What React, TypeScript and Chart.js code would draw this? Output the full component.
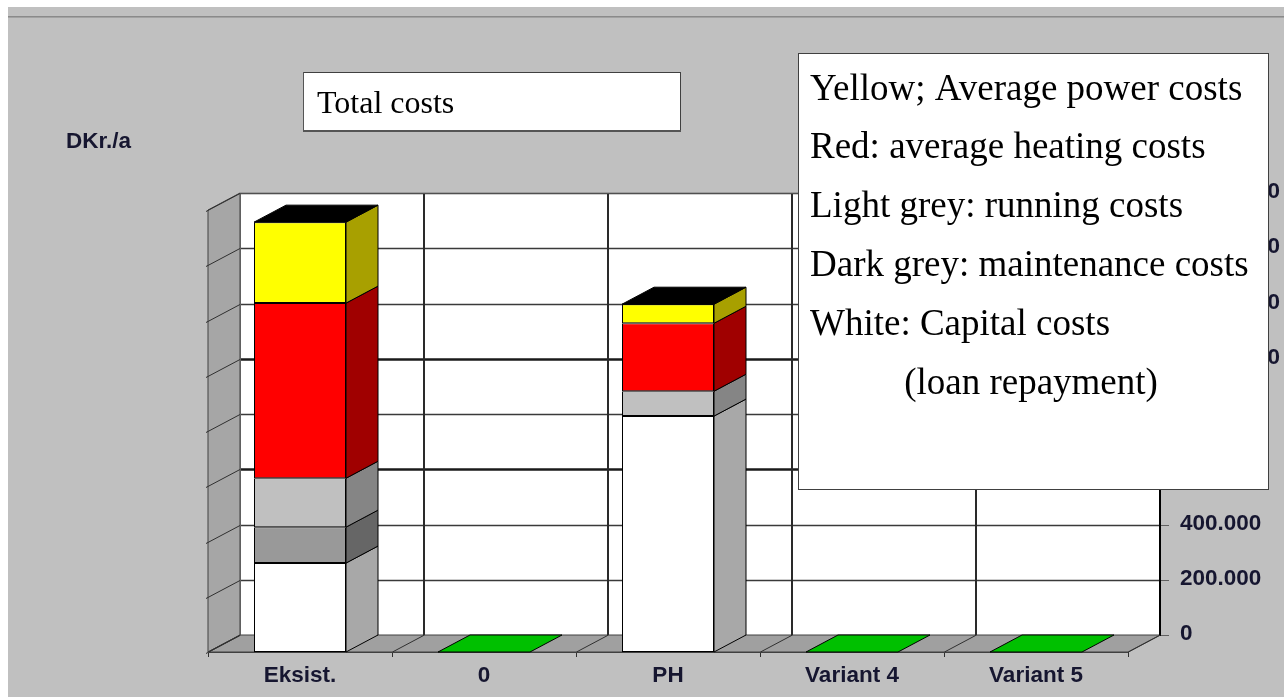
import React, { useEffect, useRef } from 'react';
import { Chart, registerables } from 'chart.js';

Chart.register(...registerables);

// ---------- data ----------
const categories = ['Eksist.', '0', 'PH', 'Variant 4', 'Variant 5'];
const capitalCosts = [322000, 0, 854000, 0, 0];
const maintenanceCosts = [130000, 0, 0, 0, 0];
const runningCosts = [177000, 0, 90000, 0, 0];
const heatingCosts = [634000, 0, 246000, 0, 0];
const powerCosts = [293000, 0, 69000, 0, 0];
const yMin = 0;
const yMax = 1600000;
const yStep = 200000;
const unitLabel = 'DKr./a';
const titleText = 'Total costs';
const legendLines = [
  'Yellow; Average power costs',
  'Red: average heating costs',
  'Light grey: running costs',
  'Dark grey: maintenance costs',
  'White: Capital costs',
];
const legendLastLine = '(loan repayment)';

// ---------- styles ----------
const DX = 32;
const DY = -17;
const SANS = '"Liberation Sans", Arial, sans-serif';
const SERIF = '"Liberation Serif", "Times New Roman", serif';
const LABEL_COLOR = '#161630';
const seriesStyles = [
  { label: 'Capital costs', front: '#ffffff', side: '#a8a8a8' },
  { label: 'Maintenance costs', front: '#999999', side: '#666666' },
  { label: 'Running costs', front: '#c0c0c0', side: '#858585' },
  { label: 'Heating costs', front: '#ff0000', side: '#a00000' },
  { label: 'Power costs', front: '#ffff00', side: '#a8a000' },
];
const seriesData = [capitalCosts, maintenanceCosts, runningCosts, heatingCosts, powerCosts];

const fmt = (v: number) =>
  Math.round(v)
    .toString()
    .replace(/\B(?=(\d{3})+(?!\d))/g, '.');

const line = (ctx: CanvasRenderingContext2D, x1: number, y1: number, x2: number, y2: number) => {
  ctx.beginPath();
  ctx.moveTo(x1, y1);
  ctx.lineTo(x2, y2);
  ctx.stroke();
};

const threeDPlugin = {
  id: 'threeD',
  beforeDraw(chart: any) {
    const { ctx, chartArea: ca, scales } = chart;
    const xs = scales.x;
    const ys = scales.y;
    const W = chart.width;
    const H = chart.height;
    ctx.save();
    // page / panel background
    ctx.fillStyle = '#ffffff';
    ctx.fillRect(0, 0, W, H);
    ctx.fillStyle = '#c0c0c0';
    ctx.fillRect(8, 7, W - 8, H - 7);
    ctx.fillStyle = '#8a8a8a';
    ctx.fillRect(8, 16, W - 8, 1);
    ctx.fillStyle = '#a2a2a2';
    ctx.fillRect(8, 17, W - 8, 1);

    // unit label
    ctx.font = `bold 22.5px ${SANS}`;
    ctx.fillStyle = LABEL_COLOR;
    ctx.textAlign = 'left';
    ctx.textBaseline = 'middle';
    ctx.fillText(unitLabel, 66, 142);

    const L = ca.left;
    const R = ca.right;
    const T = ca.top;
    const B = ca.bottom;
    const n = categories.length;
    const catW = (xs.right - xs.left) / n;

    // back wall
    ctx.fillStyle = '#ffffff';
    ctx.fillRect(L + DX, T + DY, R - L, B - T);

    // left wall
    ctx.beginPath();
    ctx.moveTo(L, T);
    ctx.lineTo(L + DX, T + DY);
    ctx.lineTo(L + DX, B + DY);
    ctx.lineTo(L, B);
    ctx.closePath();
    ctx.fillStyle = '#a6a6a6';
    ctx.fill();
    ctx.strokeStyle = '#404040';
    ctx.lineWidth = 1;
    ctx.stroke();

    // floor
    ctx.beginPath();
    ctx.moveTo(L, B);
    ctx.lineTo(L + DX, B + DY);
    ctx.lineTo(R + DX, B + DY);
    ctx.lineTo(R, B);
    ctx.closePath();
    ctx.fillStyle = '#a0a0a0';
    ctx.fill();
    ctx.strokeStyle = '#404040';
    ctx.stroke();

    // horizontal grid on back wall, diagonals on left wall, ticks on right
    ys.ticks.forEach((t: any, i: number) => {
      const py = Math.round(ys.getPixelForValue(t.value));
      const heavy = i === 3 || i === 5;
      ctx.strokeStyle = heavy ? '#1a1a1a' : '#3a3a3a';
      ctx.lineWidth = heavy ? 2.5 : 1.5;
      if (i > 0) line(ctx, L + DX, py + DY + 0.5, R + DX, py + DY + 0.5);
      ctx.strokeStyle = '#303030';
      ctx.lineWidth = 1;
      line(ctx, L + DX, py + DY + 0.5, L - 2, py + 0.5 + 1);
      ctx.strokeStyle = '#606060';
      line(ctx, R + DX, py + DY + 0.5, R + DX + 9, py + DY + 0.5);
    });

    // vertical grid on back wall
    for (let k = 0; k <= n; k++) {
      const bx = Math.round(xs.left + k * catW) + DX;
      if (k === 0) {
        ctx.strokeStyle = '#606060';
        ctx.lineWidth = 1;
        line(ctx, bx + 0.5, T + DY, bx + 0.5, B + DY);
      } else if (k === n) {
        ctx.strokeStyle = '#000000';
        ctx.lineWidth = 2;
        line(ctx, bx, T + DY, bx, B + DY + 1);
      } else {
        ctx.strokeStyle = '#2a2a2a';
        ctx.lineWidth = 2;
        line(ctx, bx, T + DY, bx, B + DY);
      }
    }
    // back wall top edge
    ctx.strokeStyle = '#505050';
    ctx.lineWidth = 1;
    line(ctx, L + DX, T + DY + 0.5, R + DX, T + DY + 0.5);

    // floor diagonals at category boundaries
    ctx.strokeStyle = '#303030';
    ctx.lineWidth = 1;
    for (let k = 0; k <= n; k++) {
      const fx = Math.round(xs.left + k * catW) + 0.5;
      line(ctx, fx, B + 5, fx, B);
      line(ctx, fx, B, fx + DX, B + DY);
    }
    ctx.strokeStyle = '#404040';
    line(ctx, L, B + 0.5, R, B + 0.5);
    ctx.restore();
  },
  afterDatasetsDraw(chart: any) {
    const ctx = chart.ctx;
    const ys = chart.scales.y;
    ctx.save();
    ctx.lineWidth = 1;
    ctx.strokeStyle = '#000000';
    ctx.lineJoin = 'miter';
    for (let i = 0; i < categories.length; i++) {
      let top: any = null;
      chart.data.datasets.forEach((ds: any, di: number) => {
        const v = ds.data[i];
        if (!v) return;
        const el = chart.getDatasetMeta(di).data[i];
        const { x, y, base, width } = el.getProps(['x', 'y', 'base', 'width'], true);
        const right = x + width / 2;
        ctx.beginPath();
        ctx.moveTo(right, y);
        ctx.lineTo(right + DX, y + DY);
        ctx.lineTo(right + DX, base + DY);
        ctx.lineTo(right, base);
        ctx.closePath();
        ctx.fillStyle = seriesStyles[di].side;
        ctx.fill();
        ctx.stroke();
        top = { x, y, width };
      });
      if (top) {
        const left = top.x - top.width / 2;
        const right = top.x + top.width / 2;
        ctx.beginPath();
        ctx.moveTo(left, top.y);
        ctx.lineTo(left + DX, top.y + DY);
        ctx.lineTo(right + DX, top.y + DY);
        ctx.lineTo(right, top.y);
        ctx.closePath();
        ctx.fillStyle = '#000000';
        ctx.fill();
        ctx.stroke();
      } else {
        const el = chart.getDatasetMeta(0).data[i];
        const { x, width } = el.getProps(['x', 'width'], true);
        const b = ys.getPixelForValue(0);
        const left = x - width / 2;
        const right = x + width / 2;
        ctx.beginPath();
        ctx.moveTo(left, b);
        ctx.lineTo(left + DX, b + DY);
        ctx.lineTo(right + DX, b + DY);
        ctx.lineTo(right, b);
        ctx.closePath();
        ctx.fillStyle = '#00c000';
        ctx.fill();
        ctx.stroke();
      }
    }
    ctx.restore();
  },
  afterDraw(chart: any) {
    const ctx = chart.ctx;
    ctx.save();
    // title box
    ctx.fillStyle = '#ffffff';
    ctx.fillRect(303, 72, 377, 59);
    ctx.strokeStyle = '#404040';
    ctx.lineWidth = 1;
    ctx.strokeRect(303.5, 72.5, 377, 59);
    ctx.fillStyle = '#555555';
    ctx.fillRect(303, 72, 1, 60);
    ctx.fillRect(303, 130, 378, 2);
    ctx.fillStyle = '#000000';
    ctx.font = `32px ${SERIF}`;
    ctx.textAlign = 'left';
    ctx.textBaseline = 'alphabetic';
    ctx.fillText(titleText, 317, 113);

    // legend box
    ctx.fillStyle = '#ffffff';
    ctx.fillRect(798, 53, 470, 436);
    ctx.strokeStyle = '#404040';
    ctx.strokeRect(798.5, 53.5, 470, 436);
    ctx.fillStyle = '#000000';
    ctx.font = `37px ${SERIF}`;
    legendLines.forEach((t, i) => {
      ctx.fillText(t, 810, 99.5 + i * 58.8);
    });
    ctx.textAlign = 'center';
    ctx.fillText(legendLastLine, 1031, 99.5 + legendLines.length * 58.8);
    ctx.restore();
  },
};

export default function App() {
  const ref = useRef<HTMLCanvasElement | null>(null);
  useEffect(() => {
    if (!ref.current) return;
    const chart = new Chart(ref.current, {
      type: 'bar',
      data: {
        labels: categories,
        datasets: seriesData.map((d, i) => ({
          label: seriesStyles[i].label,
          data: d,
          backgroundColor: seriesStyles[i].front,
          borderColor: '#000000',
          borderWidth: 1,
          borderSkipped: false,
          categoryPercentage: 1,
          barPercentage: 0.5,
        })),
      },
      options: {
        responsive: false,
        animation: false,
        events: [],
        layout: { padding: { left: 208, top: 210, right: 0, bottom: 0 } },
        plugins: { legend: { display: false }, tooltip: { enabled: false }, title: { display: false } },
        scales: {
          x: {
            stacked: true,
            grid: { display: false, drawTicks: false },
            border: { display: false },
            ticks: {
              padding: 10,
              color: LABEL_COLOR,
              maxRotation: 0,
              autoSkip: false,
              font: { family: SANS, size: 22.5, weight: 'bold' },
            },
            afterFit: (s: any) => {
              s.height = 45;
              s.paddingLeft = 0;
              s.paddingRight = 0;
            },
          },
          y: {
            stacked: true,
            position: 'right',
            min: yMin,
            max: yMax,
            grid: { display: false, drawTicks: false },
            border: { display: false },
            ticks: {
              stepSize: yStep,
              padding: 52,
              labelOffset: -18,
              color: LABEL_COLOR,
              font: { family: SANS, size: 22.5, weight: 'bold' },
              callback: (v: any) => fmt(Number(v)),
            },
            afterFit: (s: any) => {
              s.width = 156;
              s.paddingTop = 0;
              s.paddingBottom = 0;
            },
          },
        },
      } as any,
      plugins: [threeDPlugin],
    });
    return () => chart.destroy();
  }, []);
  return (
    <div style={{ position: 'fixed', left: 0, top: 0, width: 1284, height: 697, overflow: 'hidden' }}>
      <canvas ref={ref} width={1284} height={697} style={{ display: 'block' }} />
    </div>
  );
}
